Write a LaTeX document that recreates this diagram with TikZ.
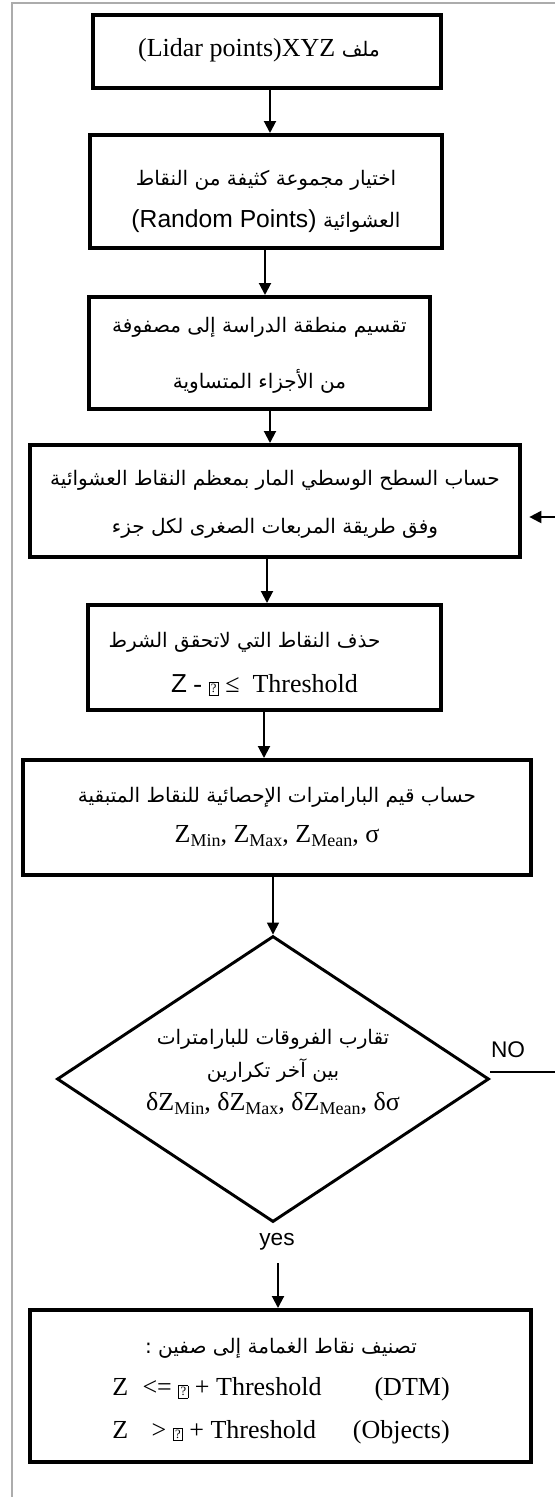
\documentclass[tikz,border=0pt]{standalone}
\usepackage{fontspec}
\setmainfont{Liberation Serif}
\newfontfamily\arabicfont[Script=Arabic,Scale=0.77]{DejaVu Sans}
\newfontfamily\sansf{Liberation Sans}
\TeXXeTstate=1
\usetikzlibrary{arrows.meta,shapes.geometric}
\newcommand\artxt[1]{{\arabicfont\beginR #1\endR}}
\newcommand\lowtxt[1]{\raisebox{-0.35ex}{\fontsize{13.5}{13.5}\selectfont #1}}
\newcommand\qbx{{\setlength{\fboxsep}{1.1pt}\setlength{\fboxrule}{0.6pt}\fbox{\fontsize{9.5}{9.5}\selectfont ?}}}
\begin{document}
\begin{tikzpicture}[x=0.75pt,y=-0.75pt,
  box/.style={draw, line width=3pt, inner sep=0pt},
  txt/.style={inner sep=0pt, align=center},
  dia/.style={draw, diamond, line width=2.2pt, inner sep=0pt, minimum width=324pt, minimum height=214.5pt},
  arr/.style={line width=1.5pt, -{Triangle[width=9pt,length=9pt]}},
  thinarr/.style={line width=1.1pt, -{Triangle[width=9pt,length=9pt]}},
  frame/.style={draw=gray!65, line width=1.5pt},
  lbl/.style={font=\sansf\fontsize{17}{17}\selectfont, inner sep=0pt}]
\useasboundingbox (0,0) rectangle (555,1497);
% frame
\coordinate (fA) at (12,1497);
\coordinate (fB) at (12,3);
\coordinate (fC) at (555,3);
\draw[frame] (fA) -- (fB) -- (fC);

% boxes
\node[box, minimum width=261pt, minimum height=54.75pt] (b1) at (267,51.5) {};
\node[box, minimum width=264pt, minimum height=84.75pt] (b2) at (266,191.5) {};
\node[box, minimum width=255.75pt, minimum height=84pt] (b3) at (259.5,353) {};
\node[box, minimum width=367.5pt, minimum height=84pt] (b4) at (275,501) {};
\node[box, minimum width=264.75pt, minimum height=78.75pt] (b5) at (264.5,657.5) {};
\node[box, minimum width=381pt, minimum height=86.25pt] (b6) at (277,817.5) {};
\node[dia] (d) at (273,1079) {};
\node[box, minimum width=375.75pt, minimum height=114pt] (b7) at (280.5,1386) {};

% texts
\node[txt, font=\fontsize{19.5}{30}\selectfont] (t1) at (259,50)
  {(Lidar points)XYZ \artxt{ملف}};
\node[txt, font=\fontsize{19.5}{31.5}\selectfont] (t2) at (266,201)
  {\artxt{اختيار مجموعة كثيفة من النقاط}\\{\sansf\fontsize{18.5}{31.5}\selectfont (Random Points)} \artxt{العشوائية}};
\node[txt, font=\fontsize{19.5}{42}\selectfont] (t3) at (259.5,355)
  {\artxt{تقسيم منطقة الدراسة إلى مصفوفة}\\\artxt{من الأجزاء المتساوية}};
\node[txt, font=\fontsize{19.5}{36}\selectfont] (t4) at (275,504)
  {\artxt{حساب السطح الوسطي المار بمعظم النقاط العشوائية}\\\artxt{وفق طريقة المربعات الصغرى لكل جزء}};
\node[txt, font=\fontsize{19.5}{33.75}\selectfont] (t5) at (264.5,664)
  {\artxt{حذف النقاط التي لاتحقق الشرط}\hspace*{30pt}\\{\sansf Z} - \qbx{} ≤\ \ Threshold};
\node[txt, font=\fontsize{19.5}{30}\selectfont] (t6) at (277,817)
  {\artxt{حساب قيم البارامترات الإحصائية للنقاط المتبقية}\\Z\lowtxt{Min}, Z\lowtxt{Max}, Z\lowtxt{Mean}, σ};
\node[txt, font=\fontsize{19.5}{25}\selectfont] (td) at (273,1072)
  {\artxt{تقارب الفروقات للبارامترات}\\\artxt{بين آخر تكرارين}\\δZ\lowtxt{Min}, δZ\lowtxt{Max}, δZ\lowtxt{Mean}, δσ};
\node[txt, font=\fontsize{19.5}{32}\selectfont] (t7) at (281,1391)
  {\artxt{تصنيف نقاط الغمامة إلى صفين :}\\
   \makebox[253pt][l]{Z\hspace{0.55em}<= \qbx{} + Threshold\hfill(DTM)}\\
   \makebox[253pt][l]{Z\hspace{0.9em}> \qbx{} + Threshold\hfill(Objects)}};

% labels
\node[lbl] (no) at (508,1050) {NO};
\node[lbl] (yes) at (277,1242) {yes};

% arrow x positions
\coordinate (a1) at (270,0);
\coordinate (a2) at (265,0);
\coordinate (a3) at (270,0);
\coordinate (a4) at (267,0);
\coordinate (a5) at (264,0);
\coordinate (ys) at (278,1263);
\coordinate (fb) at (555,517);
\coordinate (noEnd) at (555,1072);

\draw[arr] (b1.south -| a1) -- (b2.north -| a1);
\draw[arr] (b2.south -| a2) -- (b3.north -| a2);
\draw[arr] (b3.south -| a3) -- (b4.north -| a3);
\draw[arr] (b4.south -| a4) -- (b5.north -| a4);
\draw[arr] (b5.south -| a5) -- (b6.north -| a5);
\draw[thinarr] (b6.south -| d.north) -- (d.north);
\draw[arr] (ys) -- (b7.north -| ys);
\draw[arr, shorten >=5.5pt] (fb) -- (fb -| b4.east);
\draw[line width=1.1pt] ([yshift=5.25pt]d.east) -- (noEnd);
\end{tikzpicture}
\end{document}
